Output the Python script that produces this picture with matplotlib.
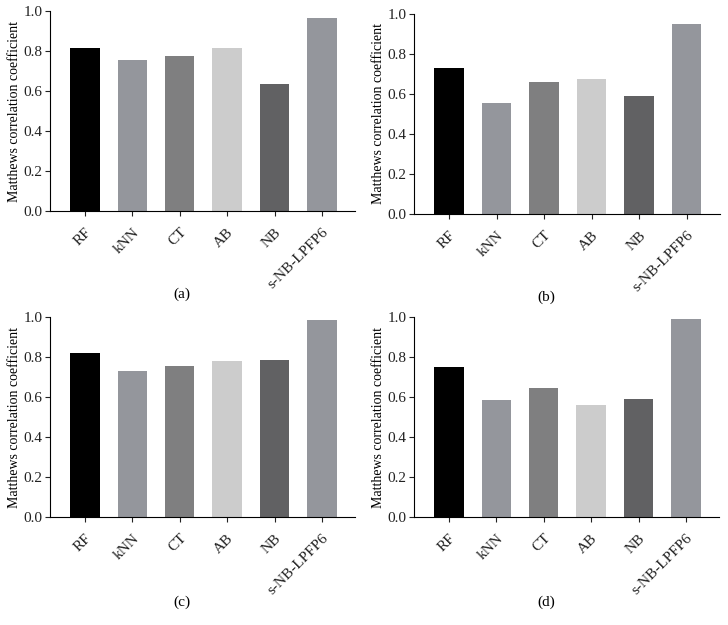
import matplotlib
matplotlib.use("Agg")
import matplotlib.pyplot as plt

models = ["RF", "kNN", "CT", "AB", "NB", "s-NB-LPFP6"]
mcc_a = [0.815, 0.755, 0.775, 0.815, 0.635, 0.965]
mcc_b = [0.73, 0.555, 0.66, 0.675, 0.59, 0.95]
mcc_c = [0.82, 0.73, 0.755, 0.78, 0.785, 0.985]
mcc_d = [0.75, 0.585, 0.645, 0.56, 0.59, 0.99]
colors = ["#000000", "#94969c", "#7f7f80", "#cccccc", "#616163", "#94969c"]
panel_labels = ["(a)", "(b)", "(c)", "(d)"]

plt.rcParams["font.family"] = ["Liberation Serif", "DejaVu Serif"]

fig = plt.figure(figsize=(7.28, 6.25), dpi=100)

# axes boxes [left, bottom, width, height] and caption positions
boxes = [
    [0.0687, 0.6624, 0.419, 0.32],
    [0.5687, 0.6576, 0.420, 0.32],
    [0.0687, 0.1728, 0.419, 0.32],
    [0.5687, 0.1728, 0.419, 0.32],
]
captions = [(0.25, 0.5296), (0.75, 0.525), (0.25, 0.0368), (0.75, 0.0368)]

for vals, box, cap, lab in zip([mcc_a, mcc_b, mcc_c, mcc_d], boxes, captions, panel_labels):
    ax = fig.add_axes(box)
    x = range(len(models))
    ax.bar(x, vals, width=0.62, color=colors)
    ax.set_xlim(-0.74, 5.7)
    ax.set_ylim(0, 1.0)
    ax.set_yticks([0.0, 0.2, 0.4, 0.6, 0.8, 1.0])
    ax.set_yticklabels(["0.0", "0.2", "0.4", "0.6", "0.8", "1.0"], fontsize=11)
    ax.set_xticks(list(x))
    ax.set_xticklabels(models, rotation=45, ha="right", rotation_mode="anchor", fontsize=11)
    ax.set_ylabel("Matthews correlation coefficient", fontsize=10, labelpad=2)
    ax.spines["top"].set_visible(False)
    ax.spines["right"].set_visible(False)
    ax.spines["left"].set_linewidth(0.8)
    ax.spines["bottom"].set_linewidth(0.8)
    ax.tick_params(direction="out", length=3.5, width=0.8, colors="#222222", pad=2)
    ax.tick_params(axis="x", pad=7)
    fig.text(cap[0], cap[1], lab, ha="center", va="center", fontsize=11)

fig.savefig("out.png", dpi=100)
